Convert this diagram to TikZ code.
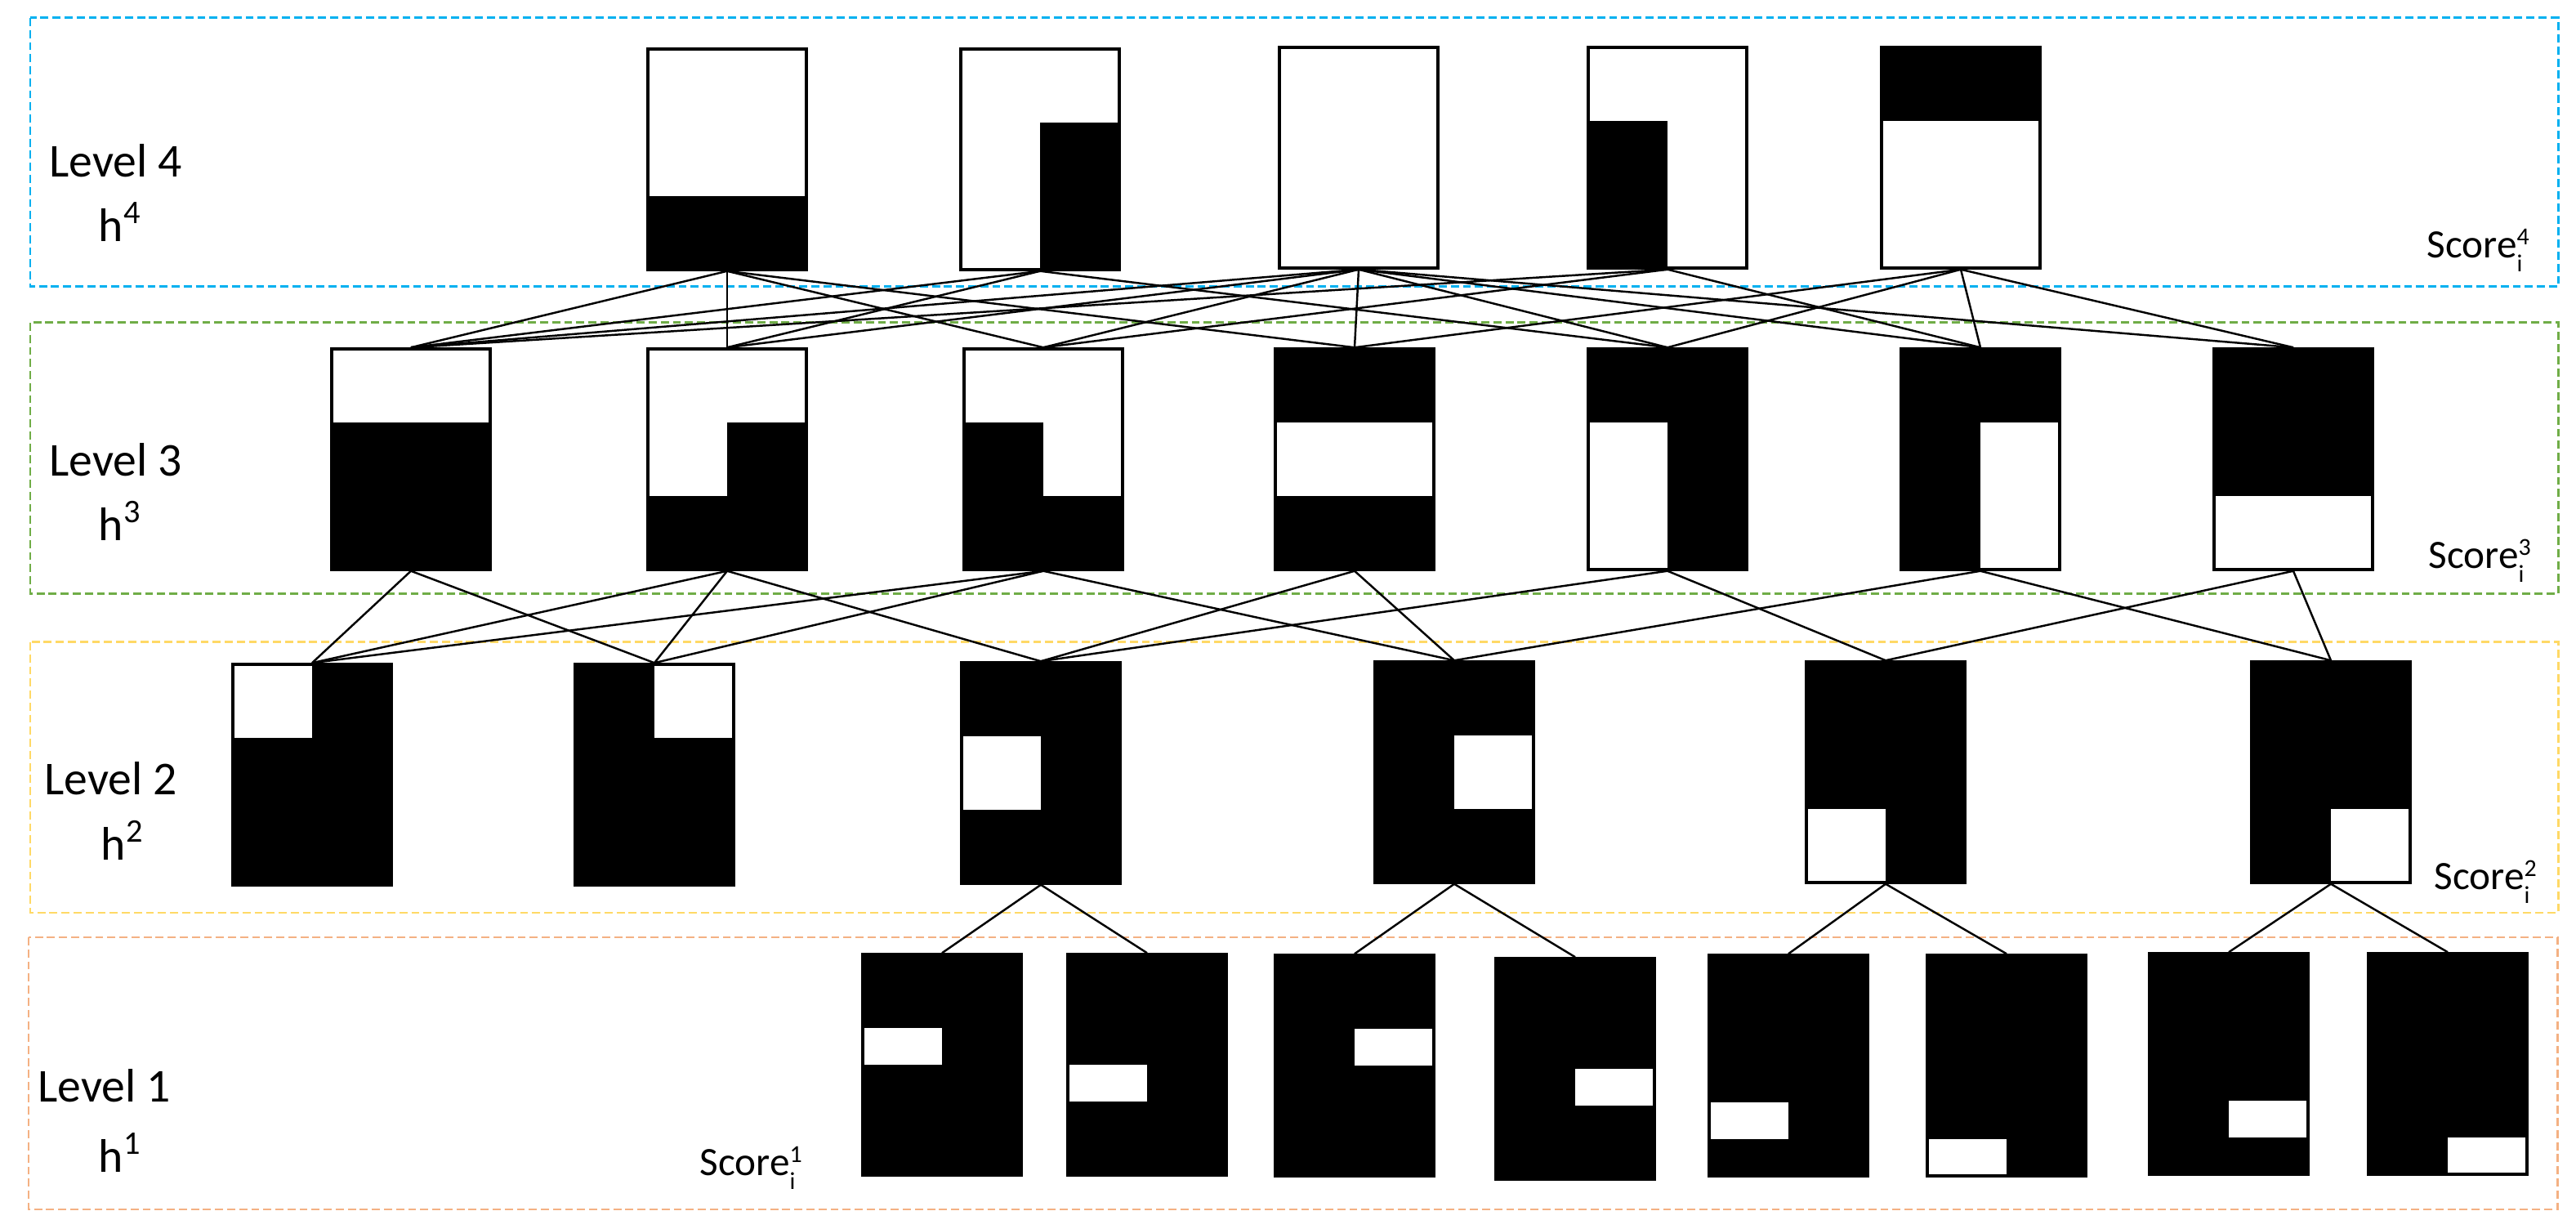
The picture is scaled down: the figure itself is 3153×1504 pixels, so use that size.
\documentclass[tikz,border=0pt]{standalone}
\usepackage{fontspec}
\setmainfont{Carlito}
\usepackage{tikz}

\definecolor{lvcyan}{HTML}{00B0F0}
\definecolor{lvgreen}{HTML}{70AD47}
\definecolor{lvyellow}{HTML}{FFD966}
\definecolor{lvorange}{HTML}{F4B183}

% one block of a cell: column, row (in sixths), columns, rows
\newcommand{\cellblk}[5][black]{\fill[#1] (path picture bounding box.north west) ++(#2*97,#3*45) rectangle ++(#4*97,#5*45);}
% Score with index i and level
\newcommand{\scorelvl}[1]{Score\rlap{\raisebox{-0.34em}{\fontsize{8.5}{9}\selectfont i}}\raisebox{0.34em}{\fontsize{8.5}{9}\selectfont #1}}

\begin{document}
\begin{tikzpicture}[x=0.01cm,y=-0.01cm,
    cell/.style={draw, line width=0.95pt, fill=white, minimum width=1.94cm, minimum height=2.7cm, inner sep=0pt},
    dark/.style={cell, fill=black},
    edge/.style={line width=0.7pt},
    levelbox/.style={line width=0.85pt, dash pattern=on 2.8pt off 1.4pt},
    lvl/.style={anchor=base west, inner sep=0pt, font=\fontsize{16.4}{20}\selectfont},
    score/.style={anchor=base west, inner sep=0pt, font=\fontsize{14}{17}\selectfont}]
                        \useasboundingbox (0,0) rectangle (3153,1504);

                        % Level boxes
                        \draw[levelbox, lvcyan] (37,22) rectangle (3131,351);
                        \draw[levelbox, lvgreen] (37,395) rectangle (3131,727);
                        \draw[levelbox, lvyellow] (37,786) rectangle (3131,1117);
                        \draw[levelbox, lvorange] (35,1147) rectangle (3130,1480);

                        % Labels
                        \node[lvl] (lev4) at (60,217) {Level 4};
                        \node[lvl] (h4) at (120,296) {h\textsuperscript{4}};
                        \node[lvl] (lev3) at (60,583) {Level 3};
                        \node[lvl] (h3) at (120,662) {h\textsuperscript{3}};
                        \node[lvl] (lev2) at (54,973) {Level 2};
                        \node[lvl] (h2) at (123,1053) {h\textsuperscript{2}};
                        \node[lvl] (lev1) at (46,1349) {Level 1};
                        \node[lvl] (h1) at (120,1435) {h\textsuperscript{1}};
                        \node[score] (s4) at (2970,316) {\scorelvl{4}};
                        \node[score] (s3) at (2972,696) {\scorelvl{3}};
                        \node[score] (s2) at (2979,1089) {\scorelvl{2}};
                        \node[score] (s1) at (856,1439) {\scorelvl{1}};

                        % Nodes
                        \node[cell, path picture={\cellblk{0}{4}{2}{2}}] (41) at (890,195) {};
                        \node[cell, path picture={\cellblk{1}{2}{1}{4}}] (42) at (1273,195) {};
                        \node[cell] (43) at (1663,193) {};
                        \node[cell, path picture={\cellblk{0}{2}{1}{4}}] (44) at (2041,193) {};
                        \node[cell, path picture={\cellblk{0}{0}{2}{2}}] (45) at (2400,193) {};

                        \node[cell, path picture={\cellblk{0}{2}{2}{4}}] (31) at (503,562) {};
                        \node[cell, path picture={\cellblk{1}{2}{1}{2}\cellblk{0}{4}{2}{2}}] (32) at (890,562) {};
                        \node[cell, path picture={\cellblk{0}{2}{1}{2}\cellblk{0}{4}{2}{2}}] (33) at (1277,562) {};
                        \node[cell, path picture={\cellblk{0}{0}{2}{2}\cellblk{0}{4}{2}{2}}] (34) at (1658,562) {};
                        \node[cell, path picture={\cellblk{0}{0}{2}{2}\cellblk{1}{2}{1}{4}}] (35) at (2041,562) {};
                        \node[cell, path picture={\cellblk{0}{0}{2}{2}\cellblk{0}{2}{1}{4}}] (36) at (2424,562) {};
                        \node[cell, path picture={\cellblk{0}{0}{2}{4}}] (37) at (2807,562) {};

                        \node[dark, path picture={\cellblk[white]{0}{0}{1}{2}}] (21) at (382,948) {};
                        \node[dark, path picture={\cellblk[white]{1}{0}{1}{2}}] (22) at (801,948) {};
                        \node[dark, path picture={\cellblk[white]{0}{2}{1}{2}}] (23) at (1274,946) {};
                        \node[dark, path picture={\cellblk[white]{1}{2}{1}{2}}] (24) at (1780,945) {};
                        \node[dark, path picture={\cellblk[white]{0}{4}{1}{2}}] (25) at (2308,945) {};
                        \node[dark, path picture={\cellblk[white]{1}{4}{1}{2}}] (26) at (2853,945) {};

                        \node[dark, path picture={\cellblk[white]{0}{2}{1}{1}}] (11) at (1153,1303) {};
                        \node[dark, path picture={\cellblk[white]{0}{3}{1}{1}}] (12) at (1404,1303) {};
                        \node[dark, path picture={\cellblk[white]{1}{2}{1}{1}}] (13) at (1658,1304) {};
                        \node[dark, path picture={\cellblk[white]{1}{3}{1}{1}}] (14) at (1928,1308) {};
                        \node[dark, path picture={\cellblk[white]{0}{4}{1}{1}}] (15) at (2189,1304) {};
                        \node[dark, path picture={\cellblk[white]{0}{5}{1}{1}}] (16) at (2456,1304) {};
                        \node[dark, path picture={\cellblk[white]{1}{4}{1}{1}}] (17) at (2728,1302) {};
                        \node[dark, path picture={\cellblk[white]{1}{5}{1}{1}}] (18) at (2996,1302) {};

                        % Edges
                        \draw[edge] (41.south) -- (31.north);
                        \draw[edge] (41.south) -- (32.north);
                        \draw[edge] (41.south) -- (33.north);
                        \draw[edge] (41.south) -- (34.north);

                        \draw[edge] (42.south) -- (31.north);
                        \draw[edge] (42.south) -- (32.north);
                        \draw[edge] (42.south) -- (35.north);

                        \draw[edge] (43.south) -- (31.north);
                        \draw[edge] (43.south) -- (32.north);
                        \draw[edge] (43.south) -- (33.north);
                        \draw[edge] (43.south) -- (34.north);
                        \draw[edge] (43.south) -- (35.north);
                        \draw[edge] (43.south) -- (36.north);
                        \draw[edge] (43.south) -- (37.north);

                        \draw[edge] (44.south) -- (31.north);
                        \draw[edge] (44.south) -- (33.north);
                        \draw[edge] (44.south) -- (36.north);

                        \draw[edge] (45.south) -- (34.north);
                        \draw[edge] (45.south) -- (35.north);
                        \draw[edge] (45.south) -- (36.north);
                        \draw[edge] (45.south) -- (37.north);

                        \draw[edge] (31.south) -- (21.north);
                        \draw[edge] (31.south) -- (22.north);
                        \draw[edge] (32.south) -- (21.north);
                        \draw[edge] (32.south) -- (22.north);
                        \draw[edge] (32.south) -- (23.north);
                        \draw[edge] (33.south) -- (21.north);
                        \draw[edge] (33.south) -- (22.north);
                        \draw[edge] (33.south) -- (24.north);
                        \draw[edge] (34.south) -- (23.north);
                        \draw[edge] (34.south) -- (24.north);
                        \draw[edge] (35.south) -- (23.north);
                        \draw[edge] (35.south) -- (25.north);
                        \draw[edge] (36.south) -- (24.north);
                        \draw[edge] (36.south) -- (26.north);
                        \draw[edge] (37.south) -- (25.north);
                        \draw[edge] (37.south) -- (26.north);

                        \draw[edge] (23.south) -- (11.north);
                        \draw[edge] (23.south) -- (12.north);
                        \draw[edge] (24.south) -- (13.north);
                        \draw[edge] (24.south) -- (14.north);
                        \draw[edge] (25.south) -- (15.north);
                        \draw[edge] (25.south) -- (16.north);
                        \draw[edge] (26.south) -- (17.north);
                        \draw[edge] (26.south) -- (18.north);
                    \end{tikzpicture}
\end{document}
